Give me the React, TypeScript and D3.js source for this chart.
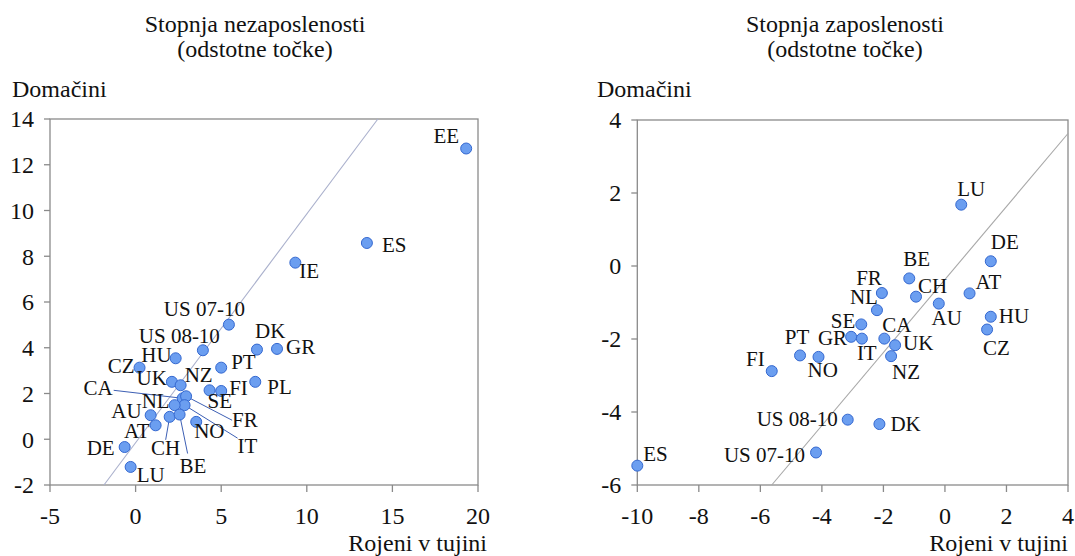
import React from 'react';
import * as d3 from 'd3';

// Unemployment rate change (percentage points): foreign-born (x) vs native (y)
const UNEMP_COUNTRIES = ['US 07-10', 'US 08-10', 'HU', 'CZ', 'DK', 'GR', 'PT', 'PL', 'FI', 'SE', 'UK', 'NZ', 'CA', 'FR', 'IT', 'NL', 'AU', 'AT', 'CH', 'BE', 'NO', 'DE', 'LU', 'EE', 'ES', 'IE'];
const UNEMP_FOREIGN = [5.45, 3.93, 2.34, 0.23, 7.09, 8.26, 5.0, 6.99, 5.0, 4.32, 2.12, 2.63, 2.75, 2.95, 2.86, 2.28, 0.88, 1.17, 1.99, 2.57, 3.54, -0.64, -0.29, 19.31, 13.51, 9.33];
const UNEMP_NATIVE = [5.01, 3.89, 3.54, 3.13, 3.92, 3.95, 3.13, 2.51, 2.11, 2.14, 2.51, 2.36, 1.79, 1.88, 1.49, 1.49, 1.05, 0.61, 0.98, 1.08, 0.76, -0.34, -1.21, 12.71, 8.58, 7.72];

// Employment rate change (percentage points)
const EMP_COUNTRIES = ['FR', 'NL', 'SE', 'GR', 'IT', 'CA', 'PT', 'NO', 'FI', 'UK', 'NZ', 'CH', 'AU', 'BE', 'AT', 'DE', 'HU', 'CZ', 'LU', 'US 08-10', 'DK', 'US 07-10', 'ES'];
const EMP_FOREIGN = [-2.05, -2.21, -2.72, -3.05, -2.70, -1.97, -4.71, -4.11, -5.63, -1.62, -1.75, -0.94, -0.20, -1.16, 0.80, 1.49, 1.49, 1.37, 0.53, -3.16, -2.13, -4.19, -10.0];
const EMP_NATIVE = [-0.74, -1.21, -1.60, -1.94, -1.99, -1.99, -2.45, -2.49, -2.88, -2.17, -2.47, -0.84, -1.03, -0.34, -0.75, 0.13, -1.39, -1.74, 1.68, -4.21, -4.33, -5.11, -5.47];

const UNEMP_X_TICKS = [-5, 0, 5, 10, 15, 20];
const UNEMP_Y_TICKS = [-2, 0, 2, 4, 6, 8, 10, 12, 14];
const EMP_X_TICKS = [-10, -8, -6, -4, -2, 0, 2, 4];
const EMP_Y_TICKS = [-6, -4, -2, 0, 2, 4];

// reference line end points (data units)
const UNEMP_DIAG = [[-1.85, -2], [14.15, 14]];
const EMP_DIAG = [[-5.63, -6], [4, 3.63]];

// label placement: [dx, dy, anchor, leaderDx?, leaderDy?]
type Lab = [number, number, string, number?, number?];
const UNEMP_LABELS: Record<string, Lab> = {
  'US 07-10': [16, -9, 'end'], 'US 08-10': [17, -7, 'end'], HU: [-4, 4, 'end'], CZ: [-5, 5, 'end'],
  DK: [-2, -12, 'start'], GR: [9, 5, 'start'], PT: [10, 1, 'start'], PL: [12, 12, 'start'],
  FI: [8, 4, 'start'], SE: [-2, 18, 'start'], UK: [-5, 3, 'end'], NZ: [4, -3, 'start'],
  CA: [-70, -3, 'end', -69, -8], FR: [46, 31, 'start', 46, 24], IT: [53, 48, 'start', 53, 33],
  NL: [-5, 3, 'end'], AU: [-9, 3, 'end'], AT: [-6, 13, 'end'], CH: [-4, 38, 'middle', -4, 23],
  BE: [0, 58, 'start', 8, 39], NO: [-2, 16, 'start'], DE: [-10, 8, 'end'], LU: [6, 15, 'start'],
  EE: [-7, -6, 'end'], ES: [15, 9, 'start'], IE: [4, 15, 'start'],
};
const EMP_LABELS: Record<string, Lab> = {
  FR: [0, -8, 'end'], NL: [1, -6, 'end'], SE: [-6, 4, 'end'], GR: [-4, 8, 'end'], IT: [-5, 21, 'start'],
  PT: [-3, -11, 'middle'], NO: [-11, 20, 'start'], FI: [-7, -5, 'end'], CA: [-2, -7, 'start'],
  UK: [8, 5, 'start'], NZ: [1, 23, 'start'], CH: [2, -4, 'start'], AU: [8, 21, 'middle'],
  BE: [-6, -12, 'start'], AT: [6, -4, 'start'], DE: [0, -12, 'start'], HU: [8, 6, 'start'],
  CZ: [-4, 25, 'start'], LU: [-4, -9, 'start'], 'US 08-10': [-10, 6, 'end'], DK: [11, 7, 'start'],
  'US 07-10': [-11, 9, 'end'], ES: [6, -5, 'start'],
};

const FONT = 'Liberation Serif';
const AXIS = '#8a8a8a';

interface PanelProps {
  title: string[];
  titleX: number;
  countries: string[];
  xs: number[];
  ys: number[];
  labels: Record<string, Lab>;
  xDomain: [number, number];
  yDomain: [number, number];
  xRange: [number, number];
  yRange: [number, number];
  xTicks: number[];
  yTicks: number[];
  diag: number[][];
  diagColor: string;
  yLabelX: number;
  xLabelX: number;
}

function Panel(p: PanelProps) {
  const x = d3.scaleLinear().domain(p.xDomain).range(p.xRange);
  const y = d3.scaleLinear().domain(p.yDomain).range(p.yRange);
  const [x0, x1] = p.xRange;
  const [yb, yt] = p.yRange;
  const line = d3.line<number[]>().x((d) => x(d[0])).y((d) => y(d[1]));
  const pts = p.countries.map((c, i) => ({ c, px: x(p.xs[i]), py: y(p.ys[i]) }));

  return (
    <g fontFamily={FONT} fill="#111">
      <text x={p.titleX} y={32} fontSize={24} textAnchor="middle">{p.title[0]}</text>
      <text x={p.titleX} y={57} fontSize={24} textAnchor="middle">{p.title[1]}</text>
      <text x={p.yLabelX} y={97} fontSize={24}>Domačini</text>
      <text x={p.xLabelX} y={551} fontSize={24} textAnchor="end">Rojeni v tujini</text>

      <rect x={x0} y={yt} width={x1 - x0} height={yb - yt} fill="none" stroke={AXIS} strokeWidth={1.3} />
      {p.yTicks.map((t) => (
        <g key={'y' + t}>
          <line x1={x0 - 6} x2={x0} y1={y(t)} y2={y(t)} stroke={AXIS} strokeWidth={1.3} />
          <text x={x0 - 16} y={y(t)} dy="0.35em" fontSize={24} textAnchor="end">{t}</text>
        </g>
      ))}
      {p.xTicks.map((t) => (
        <g key={'x' + t}>
          <line x1={x(t)} x2={x(t)} y1={yb} y2={yb + 7} stroke={AXIS} strokeWidth={1.3} />
          <text x={x(t)} y={yb + 39} fontSize={24} textAnchor="middle">{t}</text>
        </g>
      ))}

      <path d={line(p.diag) || ''} stroke={p.diagColor} strokeWidth={1.1} fill="none" />

      {pts.map(({ c, px, py }) => {
        const l = p.labels[c];
        if (l[3] === undefined) return null;
        return <line key={'l' + c} x1={px} y1={py} x2={px + (l[3] as number)} y2={py + (l[4] as number)} stroke="#3d5fb4" strokeWidth={1} />;
      })}
      {pts.map(({ c, px, py }) => (
        <circle key={'c' + c} cx={px} cy={py} r={5.5} fill="#6b9ef0" stroke="#3468d0" strokeWidth={1} />
      ))}
      {pts.map(({ c, px, py }) => {
        const l = p.labels[c];
        return (
          <text key={'t' + c} x={px + l[0]} y={py + l[1]} fontSize={21} textAnchor={l[2]}>{c}</text>
        );
      })}
    </g>
  );
}

export default function App() {
  return (
    <svg width={1075} height={556} style={{ position: 'absolute', left: 0, top: 0, background: '#fff' }}>
      <Panel
        title={['Stopnja nezaposlenosti', '(odstotne točke)']}
        titleX={255}
        countries={UNEMP_COUNTRIES}
        xs={UNEMP_FOREIGN}
        ys={UNEMP_NATIVE}
        labels={UNEMP_LABELS}
        xDomain={[-5, 20]}
        yDomain={[-2, 14]}
        xRange={[50, 478]}
        yRange={[485, 119]}
        xTicks={UNEMP_X_TICKS}
        yTicks={UNEMP_Y_TICKS}
        diag={UNEMP_DIAG}
        diagColor="#aab0cc"
        yLabelX={12}
        xLabelX={487}
      />
      <Panel
        title={['Stopnja zaposlenosti', '(odstotne točke)']}
        titleX={845}
        countries={EMP_COUNTRIES}
        xs={EMP_FOREIGN}
        ys={EMP_NATIVE}
        labels={EMP_LABELS}
        xDomain={[-10, 4]}
        yDomain={[-6, 4]}
        xRange={[637.3, 1068]}
        yRange={[485, 120]}
        xTicks={EMP_X_TICKS}
        yTicks={EMP_Y_TICKS}
        diag={EMP_DIAG}
        diagColor="#a8a8a8"
        yLabelX={597}
        xLabelX={1068}
      />
    </svg>
  );
}
